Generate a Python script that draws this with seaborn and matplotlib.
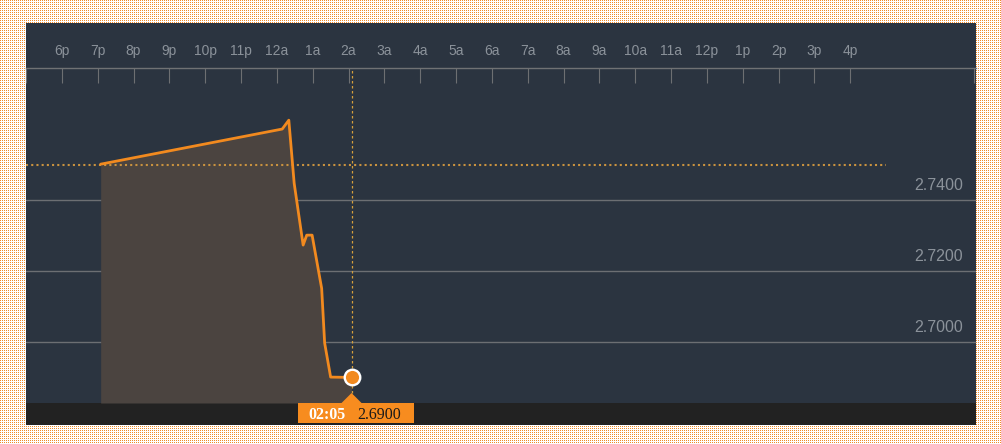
import numpy as np
import pandas as pd
import seaborn as sns
import matplotlib.pyplot as plt
from matplotlib.patches import Rectangle, Polygon

# --- data ---
times = ["19:05", "00:09", "00:20", "00:29", "00:44", "00:50", "00:59",
         "01:15", "01:20", "01:30", "02:05"]
prices = [2.7501, 2.7600, 2.7625, 2.7447, 2.7273, 2.7301, 2.7301,
          2.7151, 2.6997, 2.6901, 2.6900]
prev_close = 2.7500
hour_labels = ["6p", "7p", "8p", "9p", "10p", "11p", "12a", "1a", "2a", "3a",
               "4a", "5a", "6a", "7a", "8a", "9a", "10a", "11a", "12p", "1p",
               "2p", "3p", "4p"]
price_ticks = [2.70, 2.72, 2.74]
tip_time = "02:05"
tip_price = "2.6900"


def hours_since_6p(t):
    hh, mm = map(int, t.split(":"))
    return (hh - 18) % 24 + mm / 60


df = pd.DataFrame({"hour": [hours_since_6p(t) for t in times], "price": prices})

# colours
panel = "#2b3440"
fill_col = "#4b4440"
orange = "#f28a1f"
gold = "#c9923f"
grid_col = "#6c6f73"
tick_txt = "#8b929a"
bar_col = "#222222"

sns.set_theme(style="dark")
plt.rcParams["font.family"] = ["Liberation Sans", "DejaVu Sans"]

W, H = 1001, 444
fig = plt.figure(figsize=(W / 100, H / 100), dpi=100)

# dotted orange page background
bg = np.ones((H, W, 3))
bg[::2, ::2] = (0.94, 0.55, 0.17)
fig.figimage(bg, zorder=-10)

x0, x1 = 26, 975.7
ax = fig.add_axes([x0 / W, 1 - 403 / H, (x1 - x0) / W, (403 - 68) / H])
ax.set_zorder(1)
ax.set_facecolor(panel)
ylo, yhi = 2.6828, 2.7772
ax.set_xlim(-1, 25.5)
ax.set_ylim(ylo, yhi)

# panel strips above and below the plotting area
fig.add_artist(Rectangle((x0 / W, 1 - 68 / H), (x1 - x0) / W, 45 / H,
                         transform=fig.transFigure, color=panel, lw=0, zorder=0.5))
fig.add_artist(Rectangle((x0 / W, 1 - 425 / H), (x1 - x0) / W, 22 / H,
                         transform=fig.transFigure, color=bar_col, lw=0, zorder=0.5))

# grid lines + right side labels
for v in price_ticks:
    ax.axhline(v, color=grid_col, lw=1.0, zorder=1)
    ax.annotate(f"{v:.4f}", xy=(1.0, v), xycoords=("axes fraction", "data"),
                xytext=(-9.2, 7.2), textcoords="offset points",
                ha="right", va="baseline", fontsize=11.5, color=tick_txt)

# area + line
ax.fill_between(df["hour"], df["price"], ylo, color=fill_col, lw=0, zorder=2)
sns.lineplot(data=df, x="hour", y="price", color=orange, lw=2.0, ax=ax, zorder=4)

# previous close
ax.hlines(prev_close, -1, 23, color=gold, lw=1.5, linestyles=(0, (1, 1.5)), zorder=3)

# crosshair + last point marker
last = df.iloc[-1]
ax.axvline(last["hour"], ymin=0.03, ymax=1, color="#d6a03c", lw=0.9,
           ls=(0, (2, 2)), zorder=3)
sns.scatterplot(x=[last["hour"]], y=[last["price"]], s=125, color=orange,
                edgecolor="white", linewidth=1.7, ax=ax, zorder=5)

# top time axis
ax.xaxis.tick_top()
ax.set_xticks(range(len(hour_labels)))
ax.set_xticklabels(hour_labels)
ax.set_xticks([-1, 25.45], minor=True)
ax.tick_params(axis="x", which="both", direction="in", length=10.8, width=0.8,
               color="#6d6f72", pad=7.5, labelsize=10, labelcolor=tick_txt,
               top=True, bottom=False)
ax.set_yticks([])
ax.set_xlabel("")
ax.set_ylabel("")
ax.grid(False)
for side in ["left", "right", "bottom"]:
    ax.spines[side].set_visible(False)
ax.spines["top"].set_color("#707274")
ax.spines["top"].set_linewidth(1.0)

# tooltip at the bottom
px, py = ax.transData.transform((last["hour"], last["price"]))
tip_col = "#f78c1f"
fig.add_artist(Rectangle(((px - 53.7) / W, 21 / H), 116 / W, 20 / H,
                         transform=fig.transFigure, color=tip_col, lw=0, zorder=3))
fig.add_artist(Polygon([((px - 10) / W, 41 / H), ((px + 10) / W, 41 / H), (px / W, 51 / H)],
                       closed=True, transform=fig.transFigure, color=tip_col, lw=0, zorder=3))
fig.text((px - 43.5) / W, 29 / H, tip_time, family="Liberation Serif", weight="bold",
         fontsize=11.5, color="white", ha="left", va="center", zorder=4)
fig.text((px + 5.3) / W, 29 / H, tip_price, family="Liberation Serif",
         fontsize=11.5, color="#1a1a1a", ha="left", va="center", zorder=4)

fig.savefig("out.png", dpi=100)
